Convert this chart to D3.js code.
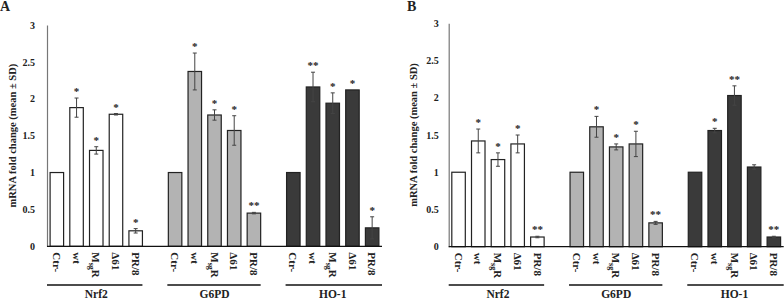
<!DOCTYPE html>
<html><head><meta charset="utf-8">
<script src="https://cdn.jsdelivr.net/npm/d3@7/dist/d3.min.js"></script>
<style>body{margin:0;background:#fff}svg{display:block}</style>
</head><body>
<svg id="c" width="784" height="300"></svg>
<script>
const genes = ["Nrf2", "G6PD", "HO-1"];
const categories = ["Ctr-", "wt", "MsgR", "Δ61", "PR/8"];
const yTicks = [0, 0.5, 1, 1.5, 2, 2.5, 3];
const panelLabels = ["A", "B"];
const yLabel = "mRNA fold change (mean ± SD)";

// Panel A values / SD / significance (per gene, per category)
const valuesA_Nrf2 = [1, 1.88, 1.30, 1.79, 0.21];
const valuesA_G6PD = [1, 2.37, 1.78, 1.57, 0.45];
const valuesA_HO1  = [1, 2.16, 1.94, 2.12, 0.25];
const errorsA_Nrf2 = [0, 0.13, 0.05, 0.01, 0.03];
const errorsA_G6PD = [0, 0.25, 0.07, 0.20, 0.01];
const errorsA_HO1  = [0, 0.20, 0.14, 0.00, 0.15];
const sigA_Nrf2 = ["", "*", "*", "*", "*"];
const sigA_G6PD = ["", "*", "*", "*", "**"];
const sigA_HO1  = ["", "**", "*", "*", "*"];

// Panel B
const valuesB_Nrf2 = [1, 1.42, 1.17, 1.38, 0.13];
const valuesB_G6PD = [1, 1.61, 1.34, 1.38, 0.32];
const valuesB_HO1  = [1, 1.56, 2.03, 1.07, 0.13];
const errorsB_Nrf2 = [0, 0.16, 0.09, 0.12, 0.01];
const errorsB_G6PD = [0, 0.14, 0.04, 0.17, 0.02];
const errorsB_HO1  = [0, 0.03, 0.13, 0.03, 0.01];
const sigB_Nrf2 = ["", "*", "*", "*", "**"];
const sigB_G6PD = ["", "*", "*", "*", "**"];
const sigB_HO1  = ["", "*", "**", "", "**"];

const geneColors = ["#ffffff", "#b3b3b3", "#3a3a3a"];

const panels = [
  {label: panelLabels[0], x0: 47, x1: 382, yTop: 25, yBot: 246.3,
   values: [valuesA_Nrf2, valuesA_G6PD, valuesA_HO1],
   errors: [errorsA_Nrf2, errorsA_G6PD, errorsA_HO1],
   sig: [sigA_Nrf2, sigA_G6PD, sigA_HO1], labelX: 0, tickPad: 12},
  {label: panelLabels[1], x0: 448.7, x1: 783.7, yTop: 23.3, yBot: 246.7,
   values: [valuesB_Nrf2, valuesB_G6PD, valuesB_HO1],
   errors: [errorsB_Nrf2, errorsB_G6PD, errorsB_HO1],
   sig: [sigB_Nrf2, sigB_G6PD, sigB_HO1], labelX: 407, tickPad: 10}
];

const svg = d3.select("#c");
const serif = "'Liberation Serif', 'DejaVu Serif', serif";

// slot keys: 5 per gene with gap slots between genes
const slots = [];
genes.forEach((g, gi) => {
  categories.forEach(c => slots.push(g + "|" + c));
  if (gi < genes.length - 1) slots.push("gap" + gi);
});

panels.forEach(p => {
  const g = svg.append("g");
  const x = d3.scaleBand().domain(slots).range([p.x0, p.x1]).paddingInner(0.315).paddingOuter(0.1575);
  const y = d3.scaleLinear().domain([0, 3]).range([p.yBot, p.yTop]);

  // panel letter
  g.append("text").attr("x", p.labelX).attr("y", 11).text(p.label)
    .attr("font-family", serif).attr("font-weight", "bold").attr("font-size", 14).attr("fill", "#222");

  // y axis
  const ax = g.append("g").attr("transform", `translate(${p.x0},0)`)
    .call(d3.axisLeft(y).tickValues(yTicks).tickSize(0).tickPadding(p.tickPad).tickFormat(d => String(d)));
  ax.select(".domain").attr("stroke", "#777").attr("stroke-width", 1.2);
  ax.selectAll("text").attr("font-family", serif).attr("font-weight", "bold").attr("font-size", 10).attr("fill", "#222");

  // y label
  g.append("text").attr("transform", `translate(${p.x0 - 35},${(p.yTop + p.yBot) / 2}) rotate(-90)`)
    .attr("text-anchor", "middle").attr("dy", "0.35em").text(yLabel)
    .attr("font-family", serif).attr("font-weight", "bold").attr("font-size", 10.5).attr("fill", "#222");

  const data = [];
  genes.forEach((gn, gi) => categories.forEach((c, ci) => data.push({
    key: gn + "|" + c, gi, ci, v: p.values[gi][ci], e: p.errors[gi][ci], s: p.sig[gi][ci]
  })));

  // bars
  g.selectAll("rect.bar").data(data).join("rect").attr("class", "bar")
    .attr("x", d => x(d.key)).attr("width", x.bandwidth())
    .attr("y", d => y(d.v)).attr("height", d => y(0) - y(d.v))
    .attr("fill", d => geneColors[d.gi]).attr("stroke", "#222").attr("stroke-width", 1.2);

  // x baseline
  g.append("line").attr("x1", p.x0).attr("x2", p.x1).attr("y1", y(0)).attr("y2", y(0))
    .attr("stroke", "#111").attr("stroke-width", 1.3);

  // error bars
  const eb = g.selectAll("g.err").data(data.filter(d => d.e > 0)).join("g").attr("class", "err")
    .attr("stroke", "#444").attr("stroke-width", 1);
  eb.append("line").attr("x1", d => x(d.key) + x.bandwidth() / 2).attr("x2", d => x(d.key) + x.bandwidth() / 2)
    .attr("y1", d => y(d.v - d.e)).attr("y2", d => y(d.v + d.e));
  eb.append("line").attr("x1", d => x(d.key) + x.bandwidth() / 2 - 2).attr("x2", d => x(d.key) + x.bandwidth() / 2 + 2)
    .attr("y1", d => y(d.v + d.e)).attr("y2", d => y(d.v + d.e));
  eb.append("line").attr("x1", d => x(d.key) + x.bandwidth() / 2 - 2).attr("x2", d => x(d.key) + x.bandwidth() / 2 + 2)
    .attr("y1", d => y(d.v - d.e)).attr("y2", d => y(d.v - d.e));

  // significance stars
  g.selectAll("text.sig").data(data.filter(d => d.s)).join("text").attr("class", "sig")
    .attr("x", d => x(d.key) + x.bandwidth() / 2).attr("y", d => y(d.v + d.e) - 3)
    .attr("text-anchor", "middle").text(d => d.s)
    .attr("font-family", serif).attr("font-weight", "bold").attr("font-size", 11).attr("fill", "#222");

  // category labels (rotated)
  const cl = g.selectAll("text.cat").data(data).join("text").attr("class", "cat")
    .attr("transform", d => `translate(${x(d.key) + x.bandwidth() / 2},${y(0) + 6}) rotate(90)`)
    .attr("dy", "0.35em")
    .attr("font-family", serif).attr("font-weight", "bold").attr("font-size", 11).attr("fill", "#222");
  cl.each(function (d) {
    const t = d3.select(this);
    if (d.ci === 2) {
      t.append("tspan").text("M");
      t.append("tspan").text("sg").attr("font-size", 8).attr("dy", 3);
      t.append("tspan").text("R").attr("dy", -3);
    } else {
      t.text(categories[d.ci]);
    }
  });

  // group underlines and names
  genes.forEach((gn, gi) => {
    const first = x(gn + "|" + categories[0]);
    const last = x(gn + "|" + categories[categories.length - 1]) + x.bandwidth();
    const xs = gi === 0 ? p.x0 : first - 1;
    const xe = gi === genes.length - 1 ? p.x1 : last;
    g.append("line").attr("x1", xs).attr("x2", xe).attr("y1", 285).attr("y2", 285)
      .attr("stroke", "#111").attr("stroke-width", 1.5);
    g.append("text").attr("x", (first + last) / 2).attr("y", 298).attr("text-anchor", "middle").text(gn)
      .attr("font-family", serif).attr("font-weight", "bold").attr("font-size", 11.5).attr("fill", "#222");
  });
});
</script>
</body></html>
